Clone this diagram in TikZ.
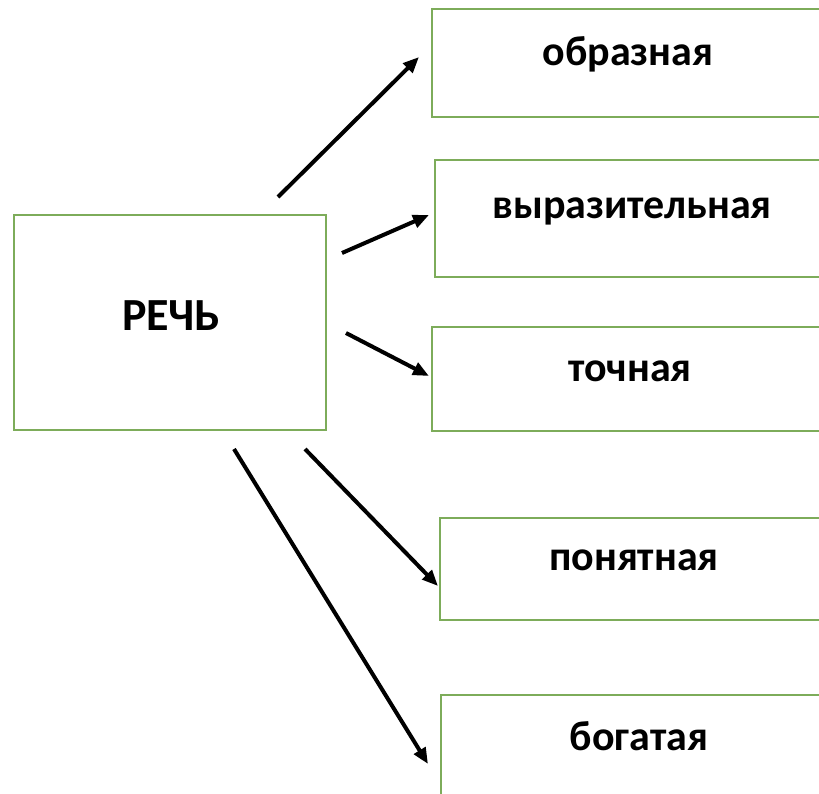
\documentclass[tikz,border=0pt]{standalone}
\usepackage{fontspec}
\setmainfont{Carlito}
\usetikzlibrary{arrows.meta}
\definecolor{boxgreen}{RGB}{125,172,90}
\tikzset{
  x=1pt, y=-1pt,
  box/.style={draw=boxgreen, line width=2pt, fill=white, inner sep=0pt},
  lbl/.style={font=\fontsize{42}{46}\selectfont\bfseries, inner sep=0pt},
  biglbl/.style={font=\fontsize{46}{50}\selectfont\bfseries, inner sep=0pt},
  arr/.style={line width=4pt, -{Triangle[length=16pt,width=13pt]}}
}
\begin{document}
\begin{tikzpicture}
\useasboundingbox (0,0) rectangle (819,793);
\clip (0,0) rectangle (819,793);
\fill[white] (0,0) rectangle (819,793);
% boxes
\node[box, minimum width=312pt, minimum height=215pt] (rech) at (170,322.5) {};
\node[box, minimum width=400pt, minimum height=108pt, anchor=north west] (b1) at (431,8) {};
\node[box, minimum width=400pt, minimum height=117pt, anchor=north west] (b2) at (434,159) {};
\node[box, minimum width=400pt, minimum height=104pt, anchor=north west] (b3) at (431,326) {};
\node[box, minimum width=400pt, minimum height=102pt, anchor=north west] (b4) at (439,517) {};
\node[box, minimum width=400pt, minimum height=120pt, anchor=north west] (b5) at (440,694) {};
% labels
\node[biglbl] (trech) at (171,316) {РЕЧЬ};
\node[lbl] (t1) at (628,54) {образная};
\node[lbl] (t2) at (632,211) {выразительная};
\node[lbl] (t3) at (630,371) {точная};
\node[lbl] (t4) at (634,560) {понятная};
\node[lbl] (t5) at (639,736) {богатая};
% connector end points
\coordinate (s1) at (278,197); \coordinate (e1) at (419,57);
\coordinate (s2) at (342,253); \coordinate (e2) at (429,215);
\coordinate (s3) at (346,333); \coordinate (e3) at (429,376);
\coordinate (s4) at (305,449); \coordinate (e4) at (438,586);
\coordinate (s5) at (234,449); \coordinate (e5) at (428,764);
\draw[arr] (s1) -- (e1);
\draw[arr] (s2) -- (e2);
\draw[arr] (s3) -- (e3);
\draw[arr] (s4) -- (e4);
\draw[arr] (s5) -- (e5);
\end{tikzpicture}
\end{document}
